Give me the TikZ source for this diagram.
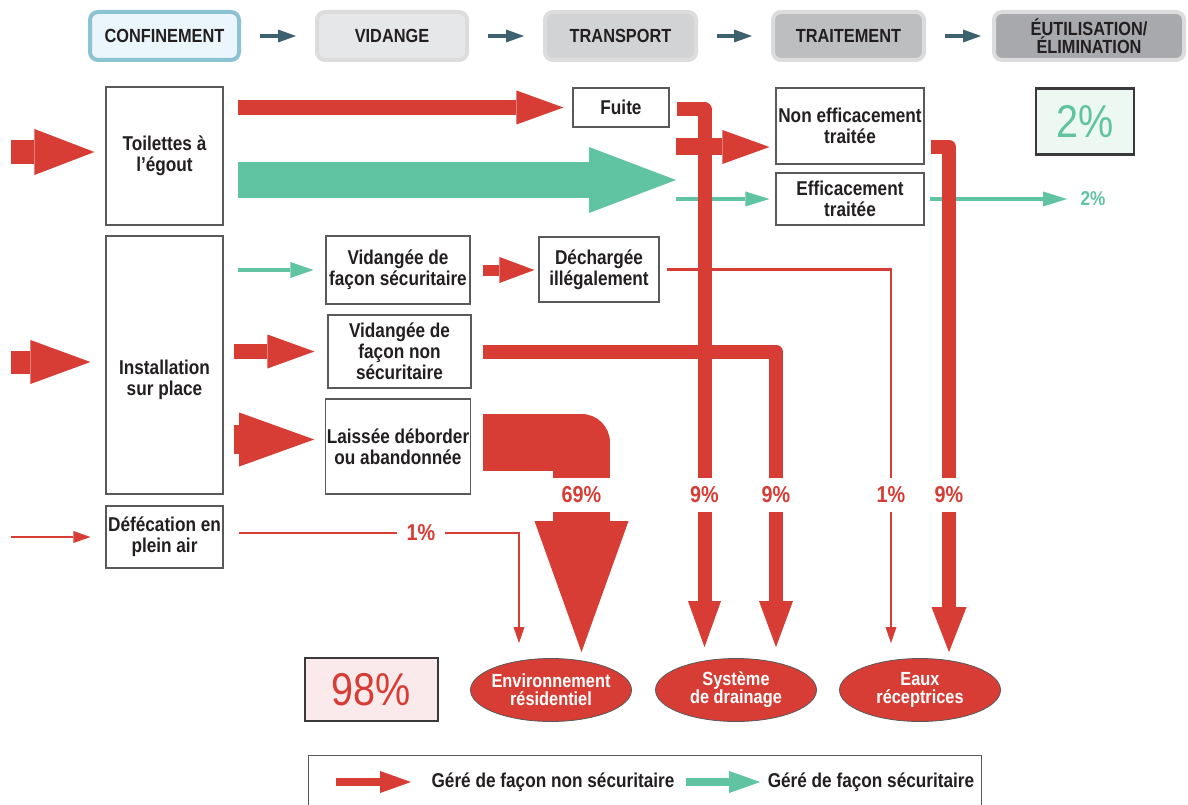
\documentclass[tikz,border=0pt]{standalone}
\usepackage{fontspec}
\setmainfont{Liberation Sans}[FakeStretch=0.86]
\usepackage{tikz}
\usetikzlibrary{arrows.meta,shapes.geometric}

\definecolor{rouge}{HTML}{D73D34}
\definecolor{vert}{HTML}{60C3A1}
\definecolor{ardoise}{HTML}{3E6170}
\definecolor{cadre}{HTML}{58595B}
\definecolor{cadrefonce}{HTML}{3A3A3C}
\definecolor{texte}{HTML}{231F20}
\definecolor{bleufond}{HTML}{EAF6FB}
\definecolor{bleucadre}{HTML}{8BC3D3}
\definecolor{grisbord}{HTML}{DCDCDD}
\definecolor{gris1}{HTML}{E6E7E8}
\definecolor{gris2}{HTML}{D1D3D4}
\definecolor{gris3}{HTML}{BCBEC0}
\definecolor{gris4}{HTML}{A7A9AC}
\definecolor{menthe}{HTML}{EEF8F3}
\definecolor{rose}{HTML}{FBEAEB}

\newcommand\txtboite{\fontsize{20}{21}\selectfont\bfseries}
\newcommand\txtetape{\fontsize{19}{18}\selectfont\bfseries}
\newcommand\txtpuits{\fontsize{19}{18}\selectfont\bfseries}
\newcommand\txtpct{\fontsize{23}{23}\selectfont\bfseries}
\newcommand\txtgrand{\fontsize{46}{46}\selectfont}

\begin{document}
\begin{tikzpicture}[x=1pt,y=-1pt,
	boite/.style={draw=cadre,line width=1.1pt,fill=white,text=texte,align=center,inner sep=1pt,font=\txtboite},
	etape/.style={draw=#1,line width=4pt,rounded corners=8pt,text=texte,align=center,minimum height=48pt,inner sep=0pt,font=\txtetape},
	fleche/.style n args={3}{draw=rouge,line width=#1,-{Triangle[length=#2 0 0,width=#3 0 0,line width=0pt 0 0]}},
	puits/.style={ellipse,draw=cadre,line width=0.8pt,fill=rouge,text=white,align=center,inner xsep=-7pt,inner ysep=2pt,minimum width=161pt,minimum height=63pt,font=\txtpuits},
	pct/.style={fill=white,text=rouge,inner sep=0pt,minimum width=30pt,minimum height=34pt,font=\txtpct}]
	\useasboundingbox (0,0) rectangle (1188,805);
	% etapes
	\node[etape=bleucadre,fill=bleufond,minimum width=149pt] (conf) at (164.5,36) {CONFINEMENT};
	\node[etape=grisbord,fill=gris1,minimum width=150pt] (vid) at (392,36) {VIDANGE};
	\node[etape=grisbord,fill=gris2,minimum width=151pt] (transp) at (620.5,36) {TRANSPORT};
	\node[etape=grisbord,fill=gris3,minimum width=151pt] (trait) at (848.5,36) {TRAITEMENT};
	\node[etape=grisbord,fill=gris4,minimum width=190pt] (util) at (1089,36) {ÉUTILISATION/\\ÉLIMINATION};
	\foreach \a/\b/\s in {conf/vid/19pt,vid/transp/19pt,transp/trait/19pt,trait/util/11pt}
		\draw[draw=ardoise,line width=4.5pt,-{Triangle[length=18pt 0 0,width=13pt 0 0,line width=0pt 0 0]},shorten <=19pt,shorten >=\s] (\a) -- (\b);
	% boites
	\node[boite,minimum width=117pt,minimum height=138pt] (toil) at (164.5,156) {Toilettes à\\l’égout};
	\node[boite,minimum width=117pt,minimum height=258pt] (inst) at (164.5,365) {\mbox{}\\[23pt]Installation\\sur place};
	\node[boite,minimum width=117pt,minimum height=62pt] (defec) at (164.5,537) {Défécation en\\plein air};
	\node[boite,minimum width=96pt,minimum height=39pt] (fuite) at (621,107.5) {Fuite};
	\node[boite,minimum width=148pt,minimum height=76pt] (noneff) at (850,126) {Non efficacement\\traitée};
	\node[boite,minimum width=148pt,minimum height=52pt] (eff) at (850,199) {Efficacement\\traitée};
	\node[boite,minimum width=144pt,minimum height=68pt] (vsec) at (398,270) {Vidangée de\\façon sécuritaire};
	\node[boite,minimum width=120pt,minimum height=65pt] (dech) at (599,269.5) {Déchargée\\illégalement};
	\node[boite,minimum width=143pt,minimum height=73pt] (vnon) at (399.5,351.5) {Vidangée de\\façon non\\sécuritaire};
	\node[boite,minimum width=144pt,minimum height=95pt] (laiss) at (398,446.5) {Laissée déborder\\ou abandonnée};
	\node[boite,draw=cadrefonce,line width=2.5pt,fill=menthe,text=vert,minimum width=98pt,minimum height=66pt,font=\txtgrand] (pct2) at (1085,121.5) {2\%};
	\node[boite,draw=cadrefonce,line width=2.5pt,fill=rose,text=rouge,minimum width=133pt,minimum height=63pt,font=\txtgrand] (pct98) at (371.5,689.5) {98\%};
	\node[text=vert,font=\txtboite] (sortie) at (1093,199) {2\%};
	% milieux recepteurs
	\node[puits] (env) at (551,690) {Environnement\\résidentiel};
	\node[puits] (drain) at (736,690) {Système\\de drainage};
	\node[puits] (eaux) at (920,690) {Eaux\\réceptrices};
	% points de passage
	\coordinate (e1) at (11,152);
	\coordinate (e2) at (11,362);
	\coordinate (e3) at (11,537);
	\coordinate (sv) at (676,180);
	\coordinate (sr) at (676,147);
	\coordinate (sg) at (676,199);
	\coordinate (k0) at (581.5,495);
	\coordinate (k1) at (704.5,495);
	\coordinate (k2) at (776,495);
	\coordinate (k3) at (891,495);
	\coordinate (k4) at (949,495);
	\coordinate (k5) at (421,533);
	\coordinate (k6) at (519,533);
	% entrees
	\draw[fleche={24pt}{60pt}{46pt},shorten >=11pt] (e1) -- (e1 -| toil.west);
	\draw[fleche={23pt}{60pt}{44pt},shorten >=15pt] (e2) -- (e2 -| inst.west);
	\draw[fleche={2.5pt}{17pt}{12pt},shorten >=15pt] (e3) -- (e3 -| defec.west);
	% flux securitaires
	\draw[fleche={36pt}{87pt}{66pt},draw=vert,shorten <=14pt] (toil.east |- sv) -- (sv);
	\draw[fleche={4.5pt}{24pt}{15pt},draw=vert,shorten >=6pt] (sg) -- (sg -| eff.west);
	\draw[fleche={4.5pt}{24pt}{15pt},draw=vert,shorten <=5pt,shorten >=10pt] (eff.east) -- (sortie.west);
	\draw[fleche={4.5pt}{23pt}{16pt},draw=vert,shorten <=14pt,shorten >=12pt] (inst.east |- vsec.west) -- (vsec.west);
	% flux non securitaires
	\draw[fleche={15pt}{47pt}{34pt},shorten <=14pt,shorten >=9pt] (toil.east |- fuite.west) -- (fuite.west);
	\draw[fleche={11pt}{35pt}{26pt},shorten <=12pt,shorten >=4pt] (vsec.east) -- (vsec.east -| dech.west);
	\draw[fleche={15pt}{47pt}{34pt},shorten <=10pt,shorten >=13pt] (inst.east |- vnon.west) -- (vnon.west);
	\draw[fleche={29pt}{75pt}{54pt},shorten <=10pt,shorten >=11pt] ([yshift=7pt]inst.east |- laiss.west) -- ([yshift=7pt]laiss.west);
	\draw[fleche={2.5pt}{16pt}{11pt},shorten <=7pt,shorten >=15pt] (dech.east) -| (k3 |- eaux.north);
	\draw[fleche={2.5pt}{16pt}{11pt},shorten <=15pt,shorten >=15pt] (defec.east |- k6) -| (k6 |- env.north);
	\draw[fleche={17pt}{47pt}{34pt},shorten >=6pt] (sr) -- (sr -| noneff.west);
	\draw[fleche={14pt}{46pt}{33pt},line join=round,shorten <=7pt,shorten >=11pt] ([yshift=-2pt]fuite.east) -| (k1 |- drain.north);
	\draw[fleche={14pt}{45pt}{35pt},line join=round,shorten <=6pt,shorten >=6pt] (noneff.east |- sr) -| (k4 |- eaux.north);
	\draw[fleche={14pt}{46pt}{34pt},line join=round,shorten <=11pt,shorten >=11pt] (vnon.east) -| (k2 |- drain.north);
	\draw[fleche={57pt}{131pt}{94pt},line join=round,shorten <=12pt,shorten >=6pt] ([yshift=4pt]laiss.east) -| (k0 |- env.north);
	% pourcentages
	\node[pct,minimum width=62pt] (l0) at (k0) {69\%};
	\node[pct] (l1) at (k1) {9\%};
	\node[pct] (l2) at (k2) {9\%};
	\node[pct] (l3) at (k3) {1\%};
	\node[pct] (l4) at (k4) {9\%};
	\node[pct,minimum width=48pt] (l5) at (k5) {1\%};
	% legende
	\draw[cadre,line width=1pt] (308,830) |- (981,755) -- (981,830);
	\node[text=texte,font=\txtboite] (lg1) at (553,782) {Géré de façon non sécuritaire};
	\node[text=texte,font=\txtboite] (lg2) at (871,782) {Géré de façon sécuritaire};
	\draw[fleche={8pt}{31pt}{22pt}] ([xshift=-92pt]lg1.west) -- ([xshift=-17pt]lg1.west);
	\draw[fleche={8pt}{31pt}{22pt},draw=vert] ([xshift=-78pt]lg2.west) -- ([xshift=-4pt]lg2.west);
\end{tikzpicture}
\end{document}
